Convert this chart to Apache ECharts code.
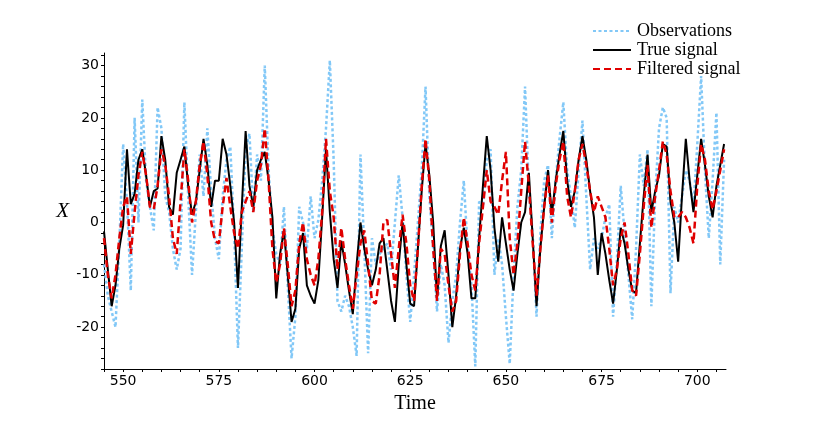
<!DOCTYPE html>
<html>
<head>
<meta charset="utf-8">
<script src="https://cdn.jsdelivr.net/npm/echarts@6/dist/echarts.min.js"></script>
<style>
  html, body { margin: 0; padding: 0; background: #fff; }
  #chart { width: 830px; height: 423px; }
</style>
</head>
<body>
<div id="chart"></div>
<script>
// first time step; one value per step after it
const timeStart = 545;

const observations = [
  -8, -14, -17, -20, -4, 15, 4, -13, 20, 0,
  23.5, 8, 3, -1.5, 22, 18, 5, 2, -5, -9,
  -5, 23, 5, -10, 2, 13, 5, 18, 6, -3,
  -7, 5, 12, 14.5, -2, -24, -5, 14, 17, 2,
  13, 8, 30, 10, -1, -6, -8, 3, -12, -26,
  -18, 3, 0, -5, 5, -3, 0.5, 8, 18, 31,
  12, -15, -17, -14, -16, -20, -25.5, 13, -5, -25,
  -3, -8, -6, -5, -4, -9, 0, 9, 1, -10,
  -19, -10, 0, 10, 26, 5, -5, -17, -8, -12,
  -23, -15, -10, 0, 8, -5, -12, -27.5, 4, 3,
  12, 14, -10, -3, -8, -18, -27, -10, 3, 10,
  26, 6, -2, -18, -2, 8, 11, -3, 8, 16,
  23, 10, 5, -1, 10, 19.5, 5, -9, -3, -5,
  -3, 1, 3.5, -18, -7, 7, -2, -10, -18.5, -5,
  13, 7, 14, -16, 5, 18, 22, 20, -13.5, 3,
  0, 5, 10, 8, 3, 15, 28, 10, -3, 8,
  21, -8, 12
];

const trueSignal = [
  -1.7, -9, -16, -12, -5, -0.5, 14, 3.5, 5.5, 12,
  14, 9, 3, 6, 6.5, 16.5, 12, 3, 1.5, 9.5,
  12, 14.5, 7, 1.5, 4, 10, 16, 11, 3, 8,
  8, 16, 13, 7, 0, -12.5, 3, 17.5, 7, 3,
  10, 12, 13.5, 8, 1, -14.5, -6, -1.5, -10, -19,
  -16.5, -5, -2, -12, -14, -15.5, -11, 1, 14, 2,
  -7, -12.5, -3.5, -8, -13, -17.5, -8, 0, -5, -9,
  -12, -9, -4, -3, -9, -15, -19, -8, 0, -8,
  -15.5, -16, -5, 6, 15, 9, 0, -14.5, -4.5, -1.5,
  -10, -20, -14, -5, -1, -6, -14.5, -14.5, -3, 7,
  16.5, 10, -1, -7.5, 1, -4, -9, -13, -6, 0,
  2, 9.5, -3, -16, -5, 3, 10, 1.5, 8, 13,
  17.5, 8, 3, 6, 12, 16.5, 12, 6, 1, -10,
  -2, -6, -11, -15.5, -9, -1, -4, -9, -13, -13.5,
  -4, 5, 13, 2, 6, 9, 15, 14.5, 4, 0,
  -7.5, 5, 16, 8, 2, 9, 16, 11, 5, 1,
  7, 11, 15
];

const filteredSignal = [
  -3, -10, -14.5, -10, -3, 3, 5, -6, 2, 9,
  13.5, 9, 3, 2.5, 7, 14, 11, 5, -3, -6,
  4, 14, 8, 0, 4, 11, 15.5, 9, 0, -3.5,
  -4, 3, 8.5, 3, -2, -5, 2, 4, 6, 2,
  8, 11, 18, 8, -5, -11.5, -8, -1, -8, -16,
  -13, -4, 0, -7, -10, -12, -7, 2, 16, 6,
  1, -9, -1, -7, -12, -16.5, -10, -4, -1.5, -8,
  -15, -15.5, -10, 0, 0.5, -6, -12.5, -5, 1.5, -4,
  -12, -15, -5, 7, 16, 8, -5, -15, -5, -6,
  -12, -17, -15, -6, 1, -4, -10, -13, -4, 3,
  10, 4, 3, 1.5, 8, 13.5, -3, -10, -4, 6,
  15.5, 7, -4, -14, -5, 3, 9, 0, 7, 12,
  15.5, 5, 1, 6, 12, 15, 11, 6, 2, 5,
  3, 1, -5, -12, -9, -3, 0, -6, -13, -14,
  -6, 3, 11, -1, 5, 10, 15.5, 13, 6, 1,
  1, 2, 1, -1, -4, 7, 15, 12, 6, 2.5,
  6, 10, 14
];

const xLabelTicks = [550, 575, 600, 625, 650, 675, 700];
const yLabelTicks = [-20, -10, 0, 10, 20, 30];

function toPoints(values) {
  return values.map((v, i) => [timeStart + i, v]);
}

const serifFont = "'Liberation Serif', 'DejaVu Serif', serif";
const sansFont = "'DejaVu Sans', sans-serif";

const chart = echarts.init(document.getElementById("chart"), null, { renderer: "canvas" });
chart.setOption({
  animation: false,
  backgroundColor: "#fff",
  grid: { left: 104, right: 104, top: 53, bottom: 54, containLabel: false },
  legend: {
    orient: "vertical",
    left: 587,
    top: 17,
    itemWidth: 38,
    itemHeight: 14,
    itemGap: 1,
    data: ["Observations", "True signal", "Filtered signal"],
    itemStyle: { opacity: 0 },
    textStyle: { fontFamily: serifFont, fontSize: 18, color: "#000", padding: [0, 0, 0, 1] },
  },
  xAxis: {
    type: "value",
    min: 545,
    max: 707.5,
    interval: 5,
    name: "Time",
    nameLocation: "middle",
    nameGap: 25,
    nameTextStyle: { fontFamily: serifFont, fontSize: 20, color: "#000" },
    axisLine: { onZero: false, lineStyle: { color: "#000", width: 1 } },
    axisTick: { show: true, inside: false, length: 3, lineStyle: { color: "#000" } },
    axisLabel: {
      margin: 5,
      fontFamily: sansFont,
      fontSize: 14,
      color: "#000",
      showMinLabel: true,
      showMaxLabel: false,
      formatter: (v) => (xLabelTicks.includes(v) ? String(v) : ""),
    },
    splitLine: { show: false },
  },
  yAxis: {
    type: "value",
    min: -28,
    max: 32.4,
    interval: 2,
    name: "X",
    nameLocation: "middle",
    nameRotate: 0,
    nameGap: 35,
    nameTextStyle: { fontFamily: serifFont, fontStyle: "italic", fontSize: 21, color: "#000" },
    axisLine: { onZero: false, lineStyle: { color: "#000", width: 1 } },
    axisTick: { show: true, inside: false, length: 3, lineStyle: { color: "#000" } },
    axisLabel: {
      margin: 5,
      fontFamily: sansFont,
      fontSize: 14,
      color: "#000",
      showMaxLabel: false,
      formatter: (v) => (yLabelTicks.includes(v) ? String(v) : ""),
    },
    splitLine: { show: false },
  },
  series: [
    {
      name: "Observations",
      type: "line",
      data: toPoints(observations),
      symbol: "none",
      color: "#82c8f7",
      lineStyle: { color: "#82c8f7", width: 2.5, type: [3, 2.5] },
      z: 1,
    },
    {
      name: "True signal",
      type: "line",
      data: toPoints(trueSignal),
      symbol: "none",
      color: "#000",
      lineStyle: { color: "#000", width: 2 },
      z: 2,
    },
    {
      name: "Filtered signal",
      type: "line",
      data: toPoints(filteredSignal),
      symbol: "none",
      color: "#e00000",
      lineStyle: { color: "#e00000", width: 2.5, type: [7, 4] },
      z: 3,
    },
  ],
});

window.addEventListener("resize", () => chart.resize());
</script>
</body>
</html>
